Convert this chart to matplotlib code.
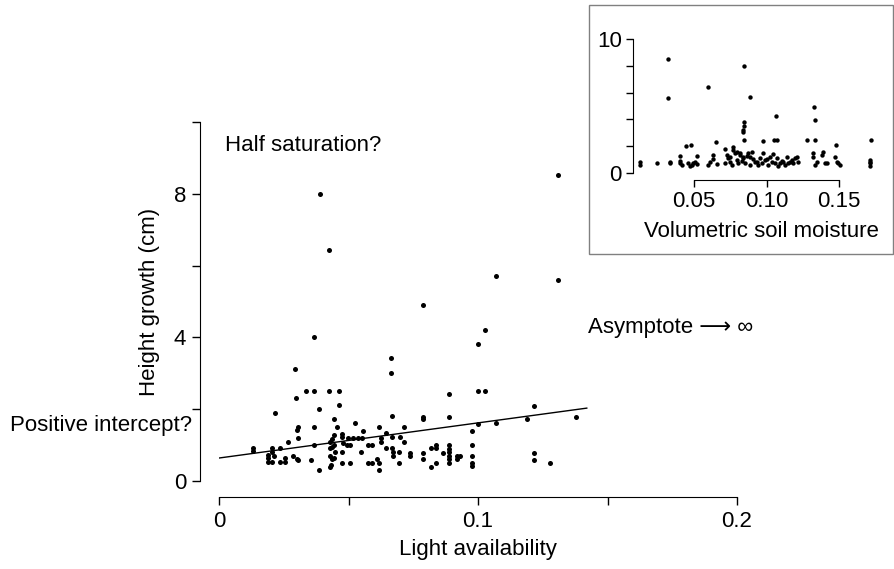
import numpy as np
import matplotlib
matplotlib.use('Agg')
import matplotlib.pyplot as plt
from matplotlib.patches import Rectangle

plt.rcParams['font.family'] = ['Liberation Sans', 'DejaVu Sans']
plt.rcParams['font.size'] = 16

# main panel: light availability vs height growth
light = [0.131, 0.107, 0.131, 0.0789, 0.1028, 0.0999, 0.0888, 0.0999, 0.1028, 0.1218,
         0.138, 0.1188, 0.1068, 0.0999, 0.0977, 0.0786, 0.0786, 0.0888, 0.0716, 0.0716,
         0.0977, 0.0977, 0.0977, 0.0977, 0.1218, 0.1218, 0.1278,
         0.0888, 0.0888, 0.0888, 0.0888, 0.0888, 0.0888,
         0.0918, 0.093, 0.0918, 0.0866, 0.0838, 0.0838, 0.0817, 0.0817, 0.0838, 0.0786,
         0.0786, 0.0737, 0.0737,
         0.0667, 0.0525, 0.0617, 0.0556, 0.0646, 0.0474, 0.0474, 0.0499, 0.0518, 0.0538,
         0.0551, 0.048, 0.0493, 0.0506, 0.0577, 0.059, 0.0624, 0.0624, 0.0667, 0.0699,
         0.0547, 0.0645, 0.0667, 0.0673, 0.0696, 0.0673, 0.0474, 0.0474, 0.0506, 0.0577,
         0.059, 0.0609, 0.0619, 0.0617, 0.0696,
         0.0336, 0.0366, 0.0425, 0.0465, 0.0296, 0.0465, 0.0385, 0.0215, 0.0445, 0.0305,
         0.030, 0.0366, 0.0454, 0.0265, 0.0305, 0.0366, 0.0429, 0.0435, 0.0445, 0.0133,
         0.0133, 0.0203, 0.0236, 0.0203, 0.019, 0.019, 0.019, 0.0203, 0.0212, 0.0236,
         0.0255, 0.0255, 0.0287, 0.030, 0.0306, 0.0354, 0.0385,
         0.0429, 0.0435, 0.0445, 0.0448, 0.0429, 0.0437, 0.0433, 0.0429, 0.0445,
         0.0366, 0.0295, 0.0665, 0.0665, 0.039, 0.0425]
height = [8.52, 5.71, 5.61, 4.91, 4.21, 3.81, 2.41, 2.51, 2.51, 2.10,
          1.79, 1.72, 1.61, 1.60, 1.39, 1.79, 1.72, 1.79, 1.50, 1.10,
          1.00, 0.70, 0.51, 0.42, 0.79, 0.58, 0.49,
          1.0, 0.9, 0.8, 0.7, 0.6, 0.5,
          0.70, 0.70, 0.62, 0.79, 1.0, 0.91, 0.91, 0.40, 0.49, 0.79,
          0.60, 0.79, 0.70,
          1.80, 1.61, 1.50, 1.39, 1.33, 1.30, 1.22, 1.19, 1.19, 1.19,
          1.19, 1.05, 1.0, 1.0, 1.0, 1.0, 1.19, 1.10, 1.22, 1.22,
          0.82, 0.91, 0.91, 0.82, 0.82, 0.70, 0.82, 0.51, 0.51, 0.51,
          0.51, 0.60, 0.51, 0.31, 0.51,
          2.51, 2.51, 2.51, 2.51, 2.32, 2.12, 2.01, 1.90, 1.72, 1.51,
          1.42, 1.50, 1.50, 1.10, 1.19, 1.00, 1.10, 1.16, 1.28, 0.91,
          0.84, 0.91, 0.91, 0.82, 0.72, 0.63, 0.54, 0.54, 0.70, 0.54,
          0.54, 0.63, 0.70, 0.60, 0.58, 0.58, 0.31,
          0.91, 0.95, 1.0, 0.82, 0.70, 0.60, 0.45, 0.38, 0.65,
          4.02, 3.11, 3.42, 3.02, 8.0, 6.43]

# fitted line
fit_x = [0.0, 0.142]
fit_y = [0.64, 2.03]

# inset: soil moisture vs height growth
moist = [0.0323, 0.0323, 0.0593, 0.0842, 0.0884, 0.1068, 0.133, 0.1337, 0.0842, 0.0842,
         0.0835, 0.0835, 0.0842, 0.0977, 0.1051, 0.1075, 0.1279, 0.1337, 0.1721, 0.0651,
         0.0442, 0.0481, 0.1480,
         0.0128, 0.0128, 0.0243, 0.0334, 0.0334, 0.0403, 0.0403, 0.0400, 0.0415,
         0.0460, 0.0472, 0.0484, 0.0495, 0.0507, 0.0518, 0.0518, 0.0599, 0.0610, 0.0633,
         0.0633, 0.0656, 0.0714, 0.0725, 0.0714, 0.0735, 0.0748, 0.0748, 0.0760, 0.0771,
         0.0771, 0.0782, 0.0794, 0.0794, 0.0805, 0.0817, 0.0817, 0.0828, 0.0840, 0.0840,
         0.0852, 0.0863, 0.0875, 0.0886, 0.0886, 0.0898, 0.0909, 0.0920, 0.0932, 0.0944,
         0.0955, 0.0967, 0.0978, 0.0990, 0.1001, 0.1013, 0.1024, 0.1036, 0.1047, 0.1058,
         0.1070, 0.1081, 0.1093, 0.1104, 0.1116, 0.1127, 0.1139, 0.1150, 0.1162, 0.1174,
         0.1185, 0.1197, 0.1208, 0.1220, 0.1323, 0.1323, 0.1346, 0.1335, 0.1380, 0.1392,
         0.1403, 0.1415, 0.1472, 0.1483, 0.1495, 0.1506, 0.1714, 0.1714, 0.1714, 0.1714]
moist_h = [8.51, 5.60, 6.42, 8.01, 5.70, 4.23, 4.90, 3.98, 3.78, 3.48,
           3.23, 3.04, 2.49, 2.41, 2.49, 2.49, 2.49, 2.49, 2.49, 2.29,
           2.04, 2.11, 2.09,
           0.85, 0.60, 0.72, 0.72, 0.80, 1.27, 0.72, 0.92, 0.62,
           0.72, 0.55, 0.60, 0.75, 0.85, 1.27, 0.70, 0.60, 0.85, 1.35,
           1.02, 0.70, 1.76, 1.35, 0.72, 1.10, 0.85, 1.22, 0.60, 1.96,
           1.72, 1.50, 1.59, 1.00, 0.75, 1.35, 1.47, 0.90, 1.22, 1.09,
           0.72, 1.30, 1.47, 1.22, 0.60, 1.59, 1.02, 0.80, 0.85, 0.60,
           1.10, 0.75, 1.47, 0.95, 1.02, 0.60, 1.22, 0.85, 1.40, 0.72,
           1.10, 0.52, 0.72, 0.90, 0.85, 0.60, 1.22, 0.75, 0.85, 0.95,
           0.72, 1.10, 1.22, 0.85, 1.47, 1.22, 0.85, 0.60, 1.35, 1.59,
           0.72, 0.72, 1.22, 0.85, 0.72, 0.60, 0.97, 0.72, 0.52, 0.85]

fig = plt.figure(figsize=(8.94, 5.69), dpi=100)

# ---- main plot
ax = fig.add_axes([219 / 894, 1 - 481 / 569, 518 / 894, 359 / 569])
ax.scatter(light, height, s=13, color='black', linewidths=0, clip_on=False)
ax.plot(fit_x, fit_y, color='black', lw=1)
ax.set_xlim(0, 0.2)
ax.set_ylim(0, 10)
for s in ['top', 'right']:
    ax.spines[s].set_visible(False)
ax.spines['left'].set_position(('outward', 13.5))
ax.spines['bottom'].set_position(('outward', 11.5))
ax.spines['left'].set_bounds(0, 10)
ax.spines['bottom'].set_bounds(0, 0.2)
ax.set_xticks([0, 0.05, 0.1, 0.15, 0.2])
ax.set_xticklabels(['0', '', '0.1', '', '0.2'])
ax.set_yticks([0, 2, 4, 6, 8, 10])
ax.set_yticklabels(['0', '', '4', '', '8', ''])
ax.tick_params(length=6, width=1, pad=4)
ax.set_xlabel('Light availability', labelpad=5)
ax.set_ylabel('Height growth (cm)', labelpad=10)

fig.text(225 / 894, 1 - 146 / 569, 'Half saturation?', va='center', ha='left')
fig.text(10 / 894, 1 - 425 / 569, 'Positive intercept?', va='center', ha='left')
fig.text(588 / 894, 1 - 327 / 569, 'Asymptote \u27f6 \u221e', va='center', ha='left')

# ---- inset
fig.add_artist(Rectangle((589 / 894, 1 - 254 / 569), 304 / 894, 249 / 569,
                         transform=fig.transFigure, fill=False,
                         edgecolor='#808080', lw=1))
ins = fig.add_axes([633 / 894, 1 - 173 / 569, 247 / 894, 134 / 569])
ins.patch.set_alpha(0)
ins.scatter(moist, moist_h, s=10, color='black', linewidths=0, clip_on=False)
ins.set_xlim(0.0079, 0.1783)
ins.set_ylim(0, 10)
for s in ['top', 'right']:
    ins.spines[s].set_visible(False)
ins.spines['bottom'].set_position(('outward', 5))
ins.spines['bottom'].set_bounds(0.05, 0.15)
ins.spines['left'].set_bounds(0, 10)
ins.set_xticks([0.05, 0.10, 0.15])
ins.set_xticklabels(['0.05', '0.10', '0.15'])
ins.set_yticks([0, 2, 4, 6, 8, 10])
ins.set_yticklabels(['0', '', '', '', '', '10'])
ins.tick_params(length=5, width=1, pad=3)
ins.set_xlabel('Volumetric soil moisture', labelpad=2)
ins.xaxis.set_label_coords(0.52, -0.36)

fig.savefig('out.png', dpi=100)
